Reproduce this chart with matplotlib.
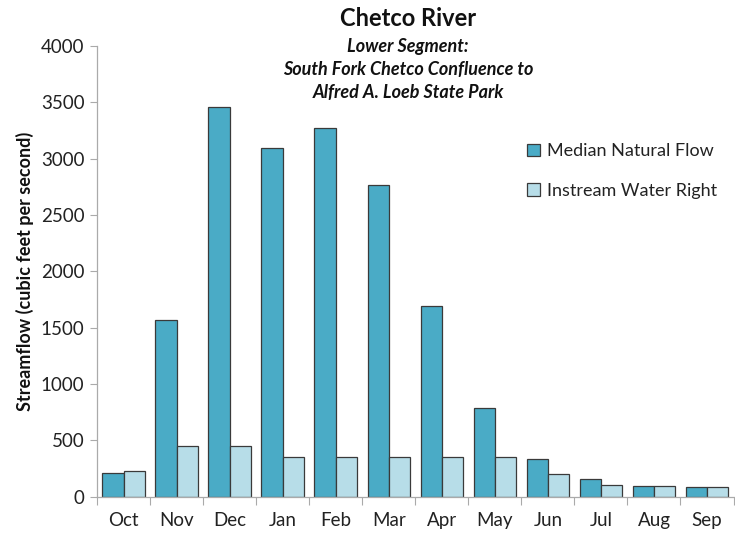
import numpy as np
import matplotlib
matplotlib.use("Agg")
import matplotlib.pyplot as plt

plt.rcParams['font.family'] = ['Lato', 'DejaVu Sans']

months = ["Oct", "Nov", "Dec", "Jan", "Feb", "Mar", "Apr", "May", "Jun", "Jul", "Aug", "Sep"]
median_flow = [210, 1570, 3460, 3090, 3270, 2770, 1695, 787, 331, 162, 98, 86]
instream_right = [228, 455, 455, 355, 355, 355, 355, 355, 204, 104, 100, 91]

fig = plt.figure(figsize=(7.35, 5.4), dpi=100)
ax = fig.add_axes([0.132, 0.08, 0.866, 0.835])

x = np.arange(len(months))
w = 0.4
ax.bar(x - w/2, median_flow, w, color='#4aabc6', edgecolor='#3a3a3a', linewidth=0.9,
       label='Median Natural Flow')
ax.bar(x + w/2, instream_right, w, color='#b7dde8', edgecolor='#3a3a3a', linewidth=0.9,
       label='Instream Water Right')

ax.set_xlim(-0.5, len(months) - 0.5)
ax.set_ylim(0, 4000)
ax.set_yticks(np.arange(0, 4001, 500))
ax.set_xticks(x)
ax.set_xticklabels(months)
ax.set_xticks(np.arange(-0.5, len(months), 1), minor=True)
ax.tick_params(axis='x', which='major', length=0, pad=11, labelsize=13.5, colors='#222222')
ax.tick_params(axis='x', which='minor', length=6, color='#aaaaaa', width=0.8)
ax.tick_params(axis='y', length=5, color='#aaaaaa', width=0.8, labelsize=13.5,
               colors='#222222', pad=4)
ax.tick_params(axis='y', color='#aaaaaa')

for s in ['top', 'right']:
    ax.spines[s].set_visible(False)
for s in ['left', 'bottom']:
    ax.spines[s].set_color('#aaaaaa')
    ax.spines[s].set_linewidth(0.9)

ax.set_ylabel("Streamflow (cubic feet per second)", fontsize=13, fontweight='bold',
              color='#111111', labelpad=5)

leg = ax.legend(loc='upper right', bbox_to_anchor=(1.0, 0.82), frameon=False,
                fontsize=13, handlelength=0.7, handleheight=0.7, handletextpad=0.4,
                labelspacing=1.3)
for t in leg.get_texts():
    t.set_color('#222222')

fig.text(0.555, 0.966, "Chetco River", ha='center', va='center', fontsize=17,
         fontweight='bold', color='#111111')
fig.text(0.555, 0.914, "Lower Segment:", ha='center', va='center', fontsize=13,
         fontweight='bold', style='italic', color='#111111')
fig.text(0.555, 0.872, "South Fork Chetco Confluence to", ha='center', va='center',
         fontsize=13, fontweight='bold', style='italic', color='#111111')
fig.text(0.555, 0.829, "Alfred A. Loeb State Park", ha='center', va='center',
         fontsize=13, fontweight='bold', style='italic', color='#111111')

fig.savefig("out.png", dpi=100)
